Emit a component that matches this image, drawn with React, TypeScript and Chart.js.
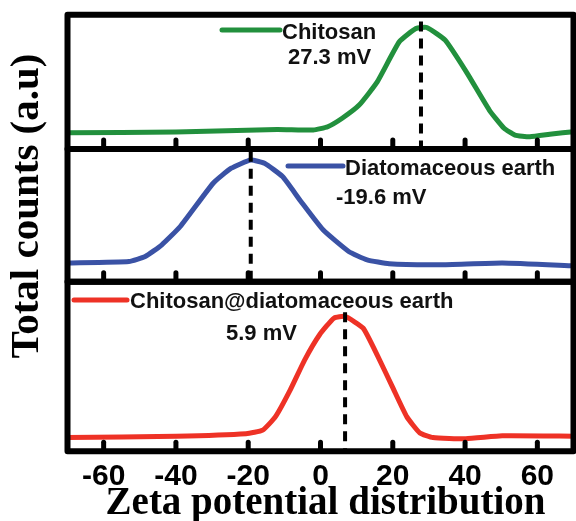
import React, { useEffect, useRef } from "react";
import { Chart, registerables } from "chart.js";

Chart.register(...registerables);

// ---------- data ----------
const xTickValues = [-60, -40, -20, 0, 20, 40, 60];
const xMin = -70;
const xMax = 70;

const chitosanX = [-70, -40, -12, -2, 2, 6, 10.7, 15.7, 21.8, 26.4, 29.4, 34.5, 40.6, 46.7, 50.8, 53.8, 57.9, 64, 70];
const chitosanY = [12.1, 12.6, 14.6, 14.1, 16.6, 22.9, 32.7, 50, 79.8, 89.7, 90.5, 81, 56.3, 29, 15.4, 10.4, 9.1, 11.2, 12.9];

const diatomX = [-70, -53, -48.5, -43.9, -38.8, -29.7, -24.7, -19.3, -15.5, -10.5, -5.4, 0.7, 7.8, 12.9, 19, 33.1, 50.3, 70];
const diatomY = [14.1, 15.2, 19, 27.8, 41.6, 74.2, 85.5, 91.7, 89.2, 79.2, 60.4, 39.1, 22.8, 16.5, 13.5, 12.8, 14.1, 12];

const compositeX = [-70, -40, -20.6, -16, -12.5, -8.4, -4.4, -0.3, 3.7, 6.8, 11.8, 15.9, 19.9, 23.9, 27.5, 31.1, 40.2, 50.3, 70];
const compositeY = [8.1, 8.9, 10.4, 12.5, 20.3, 36.1, 53.8, 68.6, 78.5, 79.5, 72.6, 55.8, 38, 20.3, 10.8, 8.1, 7.4, 9.1, 8.9];

const seriesNames = ["Chitosan", "Diatomaceous earth", "Chitosan@diatomaceous earth"];
const zetaLabels = ["27.3 mV", "-19.6 mV", "5.9 mV"];
const peakX = [27.8, -19.3, 6.8];
const peakLineTop = [95, 98, 82];
const seriesColors = ["#22903d", "#3a52a5", "#ee3226"];
const panelWeights = [134.3, 132.7, 169.6];

const xTitle = "Zeta potential distribution";
const yTitle = "Total counts (a.u)";

// ---------- layout of annotations (pixels) ----------
const legendLayout = [
  { lx1: 222, lx2: 280, ly: 30, nx: 282, ny: 39, vx: 288, vy: 63.5 },
  { lx1: 288, lx2: 343, ly: 166, nx: 345, ny: 175, vx: 336, vy: 203.5 },
  { lx1: 74, lx2: 127, ly: 300, nx: 130, ny: 308, vx: 226, vy: 340 },
];

const SANS = "'Liberation Sans', Arial, sans-serif";
const SERIF = "'Liberation Serif', 'Times New Roman', serif";
const yIds = ["y1", "y2", "y3"];

const decorPlugin = {
  id: "panelDecor",
  afterDatasetsDraw(chart: any) {
    const { ctx, scales } = chart;
    const xs = scales.x;
    ctx.save();
    yIds.forEach((id, i) => {
      const ys = scales[id];
      // dashed peak line
      const px = xs.getPixelForValue(peakX[i]);
      ctx.beginPath();
      ctx.setLineDash([10, 7]);
      ctx.lineWidth = 4;
      ctx.strokeStyle = "#000";
      ctx.lineCap = "butt";
      ctx.moveTo(px, ys.getPixelForValue(peakLineTop[i]));
      ctx.lineTo(px, ys.getPixelForValue(0));
      ctx.stroke();
      ctx.setLineDash([]);
      // inward ticks
      ctx.lineCap = "round";
      ctx.lineWidth = 5;
      xs.ticks.forEach((t: any) => {
        const tx = xs.getPixelForValue(t.value);
        ctx.beginPath();
        ctx.moveTo(tx, ys.bottom);
        ctx.lineTo(tx, ys.bottom - 9);
        ctx.stroke();
      });
      // frame
      ctx.lineCap = "butt";
      ctx.lineJoin = "round";
      ctx.lineWidth = 6;
      ctx.strokeRect(xs.left, ys.top, xs.right - xs.left, ys.bottom - ys.top);

      // legend entry
      const L = legendLayout[i];
      ctx.beginPath();
      ctx.strokeStyle = seriesColors[i];
      ctx.lineWidth = 5;
      ctx.lineCap = "round";
      ctx.moveTo(L.lx1, L.ly);
      ctx.lineTo(L.lx2, L.ly);
      ctx.stroke();
      ctx.fillStyle = "#111";
      ctx.font = `bold 22px ${SANS}`;
      ctx.textAlign = "left";
      ctx.textBaseline = "alphabetic";
      ctx.fillText(seriesNames[i], L.nx, L.ny);
      ctx.fillText(zetaLabels[i], L.vx, L.vy);
    });

    // axis titles
    ctx.fillStyle = "#000";
    ctx.font = `bold 39px ${SERIF}`;
    ctx.textAlign = "center";
    ctx.textBaseline = "alphabetic";
    ctx.fillText(xTitle, 325.5, 514);

    ctx.save();
    ctx.translate(38, 206);
    ctx.rotate(-Math.PI / 2);
    ctx.font = `bold 41px ${SERIF}`;
    ctx.fillText(yTitle, 0, 0);
    ctx.restore();

    ctx.restore();
  },
};

function makeYScale(i: number) {
  return {
    type: "linear",
    position: "left",
    stack: "panels",
    stackWeight: panelWeights[i],
    weight: 3 - i,
    min: 0,
    max: 100,
    ticks: { display: false },
    grid: { display: false, drawTicks: false },
    border: { display: false },
    afterFit: (s: any) => {
      s.width = 0;
    },
  };
}

export default function App() {
  const canvasRef = useRef<HTMLCanvasElement | null>(null);

  useEffect(() => {
    document.body.style.margin = "0";
    const canvas = canvasRef.current;
    if (!canvas) return;
    const series = [
      [chitosanX, chitosanY],
      [diatomX, diatomY],
      [compositeX, compositeY],
    ];
    const chart = new Chart(canvas, {
      type: "line",
      data: {
        datasets: series.map(([xs, ys], i) => ({
          label: seriesNames[i],
          data: xs.map((x, k) => ({ x, y: ys[k] })),
          borderColor: seriesColors[i],
          backgroundColor: seriesColors[i],
          borderWidth: 5,
          pointRadius: 0,
          tension: 0.15,
          borderCapStyle: "round",
          borderJoinStyle: "round",
          yAxisID: yIds[i],
          xAxisID: "x",
        })),
      },
      options: {
        responsive: false,
        animation: false,
        layout: { padding: { left: 67.5, right: 2.5, top: 14.7, bottom: 0 } },
        plugins: {
          legend: { display: false },
          tooltip: { enabled: false },
          title: { display: false },
        },
        scales: {
          x: {
            type: "linear",
            position: "bottom",
            min: xMin,
            max: xMax,
            afterBuildTicks: (s: any) => {
              s.ticks = xTickValues.map((v) => ({ value: v }));
            },
            afterFit: (s: any) => {
              s.height = 69.7;
            },
            ticks: {
              autoSkip: false,
              maxRotation: 0,
              padding: 7,
              color: "#000",
              font: { family: SANS, weight: "bold", size: 30 },
            },
            grid: { display: false, drawTicks: false },
            border: { display: false },
          },
          y1: makeYScale(0),
          y2: makeYScale(1),
          y3: makeYScale(2),
        } as any,
      },
      plugins: [decorPlugin],
    } as any);
    return () => chart.destroy();
  }, []);

  return (
    <div style={{ width: 576, height: 521, background: "#fff" }}>
      <canvas ref={canvasRef} width={576} height={521} style={{ display: "block" }} />
    </div>
  );
}
